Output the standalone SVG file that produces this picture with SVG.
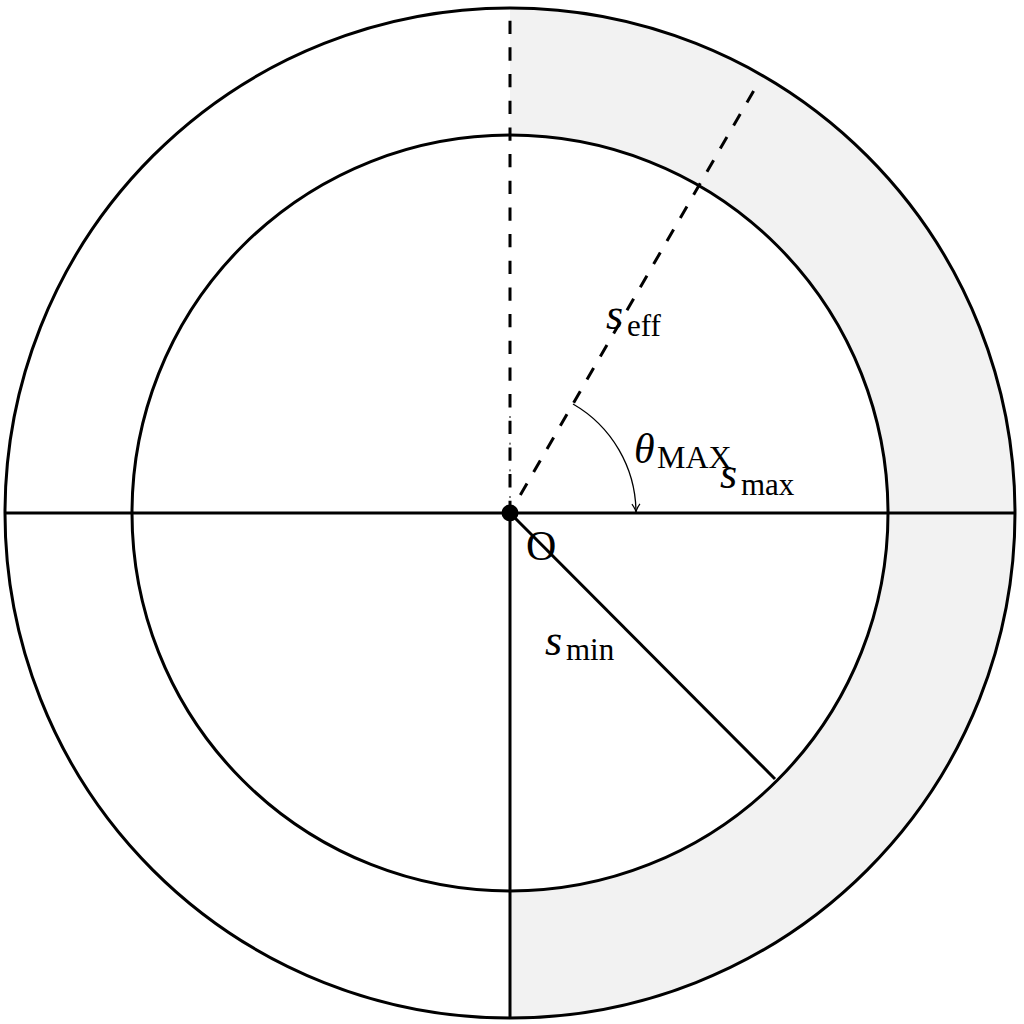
<svg xmlns="http://www.w3.org/2000/svg" width="1024" height="1024" viewBox="0 0 1024 1024">
<style>
.thick{stroke:#000;stroke-width:3;fill:none}
.dash{stroke:#000;stroke-width:3;fill:none;stroke-dasharray:13.3 13.37}
.thin{stroke:#000;stroke-width:1.3;fill:none}
.m{font-family:"Liberation Serif","DejaVu Serif",serif;fill:#000}
.it{font-style:italic}
</style>
<defs>
<marker id="arr" viewBox="0 0 10 10" refX="9" refY="5" markerWidth="10" markerHeight="10" markerUnits="userSpaceOnUse" orient="auto">
<path d="M1 1 Q5 4 9 5 Q5 6 1 9" fill="none" stroke="#000" stroke-width="1.2"/>
</marker>
</defs>
<g id="shade">
<path d="M510 8 A505 505 0 0 1 510 1018 L510 891 A378 378 0 0 0 510 135 Z" fill="#f2f2f2"/>
</g>
<g id="circles">
<circle id="outer" cx="510" cy="513" r="505" class="thick"/>
<circle id="inner" cx="510" cy="513" r="378" class="thick"/>
</g>
<g id="connectors">
<line x1="5" y1="513" x2="1015" y2="513" class="thick"/>
<line x1="510" y1="513" x2="510" y2="1018" class="thick"/>
<line x1="510" y1="513" x2="775" y2="779" class="thick"/>
<line x1="510" y1="12" x2="510" y2="513" class="dash" stroke-dashoffset="17.97"/>
<line x1="510" y1="416" x2="510" y2="513" stroke="#000" stroke-width="1" stroke-dasharray="2 24.67"/>
<line x1="510" y1="513" x2="757" y2="85" class="dash" stroke-dashoffset="6"/>
<path d="M573 404 A126 126 0 0 1 636 512" class="thin" marker-end="url(#arr)"/>
</g>
<g id="O">
<circle cx="510" cy="513" r="8.5" fill="#000"/>
<text x="526" y="560" class="m" font-size="42">O</text>
</g>
<g id="labels">
<text x="606" y="329" class="m" font-size="44"><tspan class="it">s</tspan><tspan x="627" y="336" font-size="31">eff</tspan></text>
<text x="634" y="463" class="m" font-size="42"><tspan class="it">θ</tspan><tspan x="657" y="468" font-size="32">MAX</tspan></text>
<text x="720" y="488" class="m" font-size="44"><tspan class="it">s</tspan><tspan x="741" y="495" font-size="31">max</tspan></text>
<text x="545" y="655" class="m" font-size="44"><tspan class="it">s</tspan><tspan x="566" y="660" font-size="31">min</tspan></text>
</g>
</svg>
